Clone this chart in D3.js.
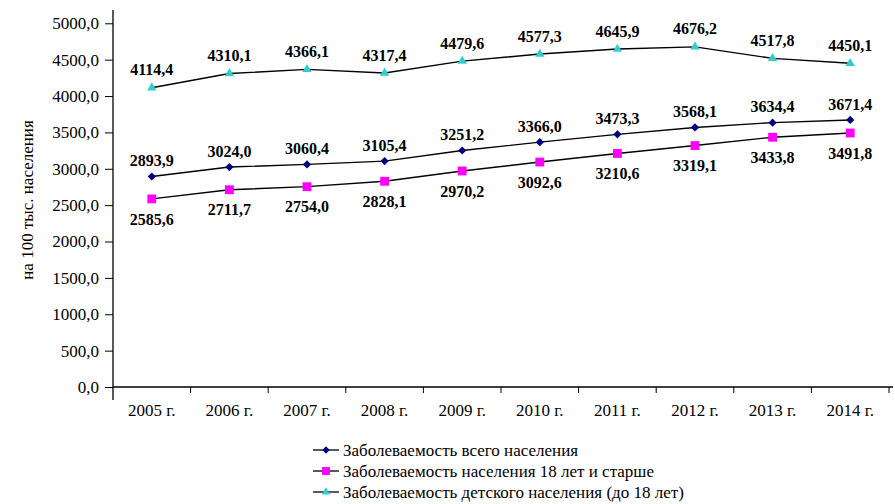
<!DOCTYPE html>
<html><head><meta charset="utf-8">
<script src="https://cdn.jsdelivr.net/npm/d3@7"></script>
<style>body{margin:0;background:#fff}svg{display:block}</style>
</head><body>
<svg id="c" width="895" height="504"></svg>
<script>
const categories = ["2005 г.","2006 г.","2007 г.","2008 г.","2009 г.","2010 г.","2011 г.","2012 г.","2013 г.","2014 г."];
const totalValues = [2893.9,3024.0,3060.4,3105.4,3251.2,3366.0,3473.3,3568.1,3634.4,3671.4];
const adultValues = [2585.6,2711.7,2754.0,2828.1,2970.2,3092.6,3210.6,3319.1,3433.8,3491.8];
const childValues = [4114.4,4310.1,4366.1,4317.4,4479.6,4577.3,4645.9,4676.2,4517.8,4450.1];
const yTicks = [0,500,1000,1500,2000,2500,3000,3500,4000,4500,5000];
const seriesNames = ["Заболеваемость всего населения","Заболеваемость населения 18 лет и старше","Заболеваемость детского населения (до 18 лет)"];
const yTitle = "на 100 тыс. населения";

const svg = d3.select("#c");
const L=113, R=889, T=23.3, B=387;
const x = d3.scaleBand().domain(categories).range([L,R]);
const y = d3.scaleLinear().domain([0,5000]).range([B,T]);
const fmt = v => v.toFixed(1).replace(".",",");
const font = "Liberation Serif, Times New Roman, serif";

// y axis
const ya = svg.append("g").attr("transform",`translate(${L},0)`)
  .call(d3.axisLeft(y).tickValues(yTicks).tickSize(8).tickPadding(6).tickFormat(fmt));
ya.select(".domain").remove();
ya.selectAll("line").attr("stroke","#000");
ya.selectAll("text").attr("font-family",font).attr("font-size",17).attr("fill","#000");
svg.append("line").attr("x1",L).attr("x2",L).attr("y1",10).attr("y2",400).attr("stroke","#000").attr("stroke-width",1.3);

// x axis
const xa = svg.append("g").attr("transform",`translate(0,${B})`)
  .call(d3.axisBottom(x).tickSize(0).tickPadding(17));
xa.select(".domain").remove();
xa.selectAll("text").attr("font-family",font).attr("font-size",17).attr("fill","#000");
svg.append("line").attr("x1",L).attr("x2",R+4).attr("y1",B).attr("y2",B).attr("stroke","#000").attr("stroke-width",1.3);
categories.forEach((c,i)=>{ if(i>0) svg.append("line").attr("x1",x(c)).attr("x2",x(c)).attr("y1",B).attr("y2",B+6).attr("stroke","#000");});
svg.append("line").attr("x1",R).attr("x2",R).attr("y1",B).attr("y2",B+6).attr("stroke","#000");

// y title
svg.append("text").attr("transform",`translate(33,200) rotate(-90)`).attr("text-anchor","middle")
  .attr("font-family",font).attr("font-size",17).text(yTitle);

const cx = c => x(c)+x.bandwidth()/2;
const series = [
  {vals:totalValues,color:"#000080",shape:d3.symbolSquare,size:40,tf:"rotate(45) scale(0.92)",labelDy:-16},
  {vals:adultValues,color:"#FF00FF",shape:d3.symbolSquare,size:78,tf:"",labelDy:20},
  {vals:childValues,color:"#33CCCC",shape:d3.symbolTriangle,size:38,tf:"",labelDy:-18}
];
const line = d3.line().x((d,i)=>cx(categories[i])).y(d=>y(d));
series.forEach(s=>{
  svg.append("path").attr("d",line(s.vals)).attr("fill","none").attr("stroke","#000").attr("stroke-width",1.4);
});
series.forEach(s=>{
  s.vals.forEach((v,i)=>{
    svg.append("path").attr("d",d3.symbol().type(s.shape).size(s.size)())
      .attr("transform",`translate(${cx(categories[i])},${y(v)}) ${s.tf}`).attr("fill",s.color);
    svg.append("text").attr("x",cx(categories[i])).attr("y",y(v)+s.labelDy).attr("dy","0.35em")
      .attr("text-anchor","middle").attr("font-family",font).attr("font-weight","bold").attr("font-size",16).text(fmt(v));
  });
});

// legend
const lg = svg.append("g");
series.forEach((s,i)=>{
  const yy = 450+i*21;
  lg.append("line").attr("x1",313).attr("x2",339).attr("y1",yy).attr("y2",yy).attr("stroke","#000").attr("stroke-width",1.3);
  lg.append("path").attr("d",d3.symbol().type(s.shape).size(s.size*0.8)()).attr("transform",`translate(326,${yy}) ${s.tf}`).attr("fill",s.color);
  lg.append("text").attr("x",343).attr("y",yy).attr("dy","0.35em").attr("font-family",font).attr("font-size",17).text(seriesNames[i]);
});
</script>
</body></html>
